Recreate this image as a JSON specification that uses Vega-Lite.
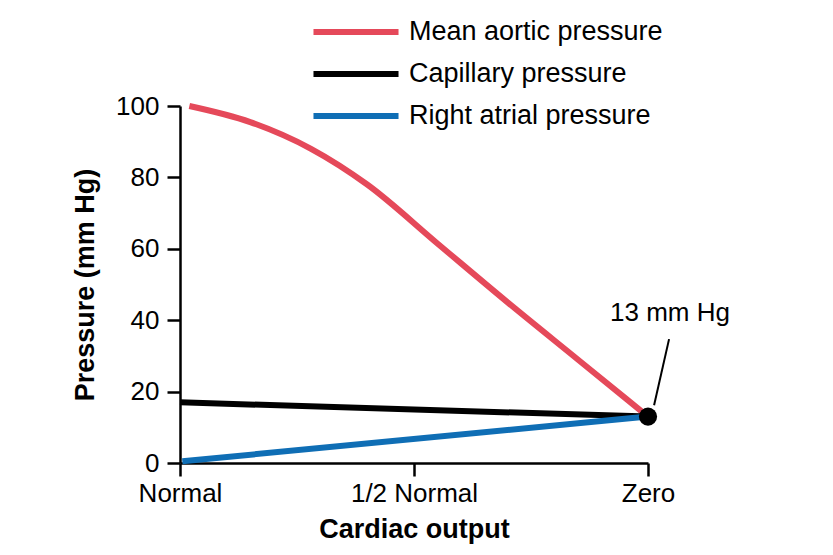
{
  "$schema": "https://vega.github.io/schema/vega-lite/v6.json",
  "autosize": "none",
  "width": 468,
  "height": 357,
  "padding": {"left": 180, "top": 106, "right": 185, "bottom": 92},
  "background": "white",
  "config": {
    "font": "Liberation Sans",
    "view": {"stroke": null},
    "axis": {"grid": false, "domainColor": "black", "domainWidth": 2.5, "tickColor": "black", "tickWidth": 2.5, "tickSize": 13, "labelColor": "black", "titleColor": "black", "labelFontSize": 26, "titleFontSize": 27, "titleFontWeight": "bold", "labelPadding": 8}
  },
  "datasets": {
    "lines": [
      {"series": "Mean aortic pressure", "x": 0.04, "y": 100},
      {"series": "Mean aortic pressure", "x": 0.3, "y": 95.5},
      {"series": "Mean aortic pressure", "x": 0.56, "y": 88},
      {"series": "Mean aortic pressure", "x": 0.8, "y": 78},
      {"series": "Mean aortic pressure", "x": 1.1, "y": 61.5},
      {"series": "Mean aortic pressure", "x": 1.4, "y": 45},
      {"series": "Mean aortic pressure", "x": 1.7, "y": 29},
      {"series": "Mean aortic pressure", "x": 2, "y": 13},
      {"series": "Capillary pressure", "x": 0, "y": 17},
      {"series": "Capillary pressure", "x": 2, "y": 13},
      {"series": "Right atrial pressure", "x": 0.01, "y": 0.5},
      {"series": "Right atrial pressure", "x": 2, "y": 13}
    ],
    "dot": [{"x": 2, "y": 13}],
    "note": [{"x": 2.094, "y": 38.4, "label": "13 mm Hg", "x1": 2.09, "y1": 34.7, "x2": 2.026, "y2": 16.2}]
  },
  "layer": [
    {
      "data": {"name": "lines"},
      "mark": {"type": "line", "strokeWidth": 6, "interpolate": "monotone", "strokeCap": "butt"},
      "encoding": {
        "x": {"field": "x", "type": "quantitative", "scale": {"domain": [0, 2], "nice": false, "zero": false},
          "axis": {"values": [0, 1, 2], "labelExpr": "datum.value == 0 ? 'Normal' : datum.value == 1 ? '1/2 Normal' : 'Zero'", "title": "Cardiac output", "titlePadding": 10, "labelPadding": 4, "labelFlush": false}},
        "y": {"field": "y", "type": "quantitative", "scale": {"domain": [0, 100], "nice": false},
          "axis": {"values": [0, 20, 40, 60, 80, 100], "title": "Pressure (mm Hg)", "titlePadding": 16}},
        "color": {"field": "series", "type": "nominal",
          "scale": {"domain": ["Mean aortic pressure", "Capillary pressure", "Right atrial pressure"], "range": ["#E5495A", "#000000", "#0F6EB5"]},
          "legend": {"title": null, "orient": "none", "legendX": 162, "legendY": -88, "padding": 0,
            "symbolType": "M-4,0H4", "symbolSize": 452, "symbolStrokeWidth": 6,
            "labelFontSize": 27, "labelColor": "black", "labelOffset": 39, "rowPadding": 15, "labelLimit": 400}}
      }
    },
    {
      "data": {"name": "note"},
      "mark": {"type": "rule", "color": "black", "strokeWidth": 2},
      "encoding": {
        "x": {"field": "x1", "type": "quantitative"},
        "y": {"field": "y1", "type": "quantitative"},
        "x2": {"field": "x2"},
        "y2": {"field": "y2"}
      }
    },
    {
      "data": {"name": "note"},
      "mark": {"type": "text", "fontSize": 26, "color": "black", "align": "center", "baseline": "bottom"},
      "encoding": {
        "x": {"field": "x", "type": "quantitative"},
        "y": {"field": "y", "type": "quantitative"},
        "text": {"field": "label"}
      }
    },
    {
      "data": {"name": "dot"},
      "mark": {"type": "point", "filled": true, "color": "black", "size": 330, "opacity": 1},
      "encoding": {
        "x": {"field": "x", "type": "quantitative"},
        "y": {"field": "y", "type": "quantitative"}
      }
    }
  ]
}
